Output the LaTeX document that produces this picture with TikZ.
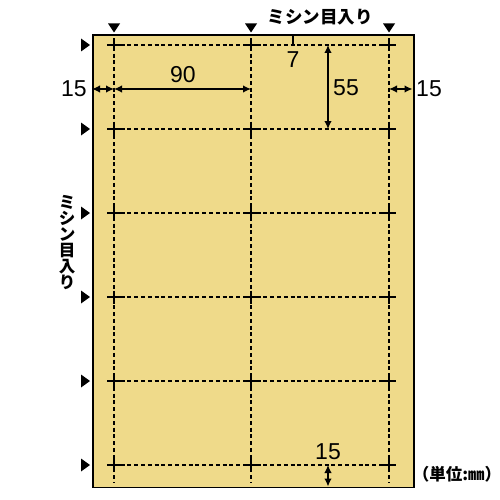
\documentclass[tikz,border=0pt]{standalone}
\usepackage{fontspec}
\setmainfont{Liberation Sans}
\newfontfamily\cjk{Noto Sans CJK JP}
\usetikzlibrary{arrows.meta}
\definecolor{sheet}{RGB}{239,218,138}
\begin{document}
\begin{tikzpicture}[x=1pt,y=-1pt,
  cut/.style={line width=1.3pt,dash pattern=on 4pt off 2.8pt},
  crossmark/.style={line width=1.3pt},
  dim/.style={line width=1.4pt,{Latex[length=8pt,width=7.5pt]}-{Latex[length=8pt,width=7.5pt]}},
  num/.style={font=\fontsize{23}{23}\selectfont,inner sep=0pt},
  jp/.style={font=\cjk\bfseries\fontsize{17.5}{17.5}\selectfont,inner sep=0pt},
  marker/.style={fill=black}]
\useasboundingbox (0,0) rectangle (500,500);
% sheet
\node[draw,line width=1.6pt,fill=sheet,minimum width=321pt,minimum height=452pt,
      anchor=north west,inner sep=0pt] (sheet) at (92,34.5) {};
% perforation lines
\foreach \x in {114,251,389}{
  \draw[cut] (\x,40) -- (\x,483);
  \fill[marker] (\x-6,23.5) -- (\x+6,23.5) -- (\x,32.5) -- cycle;
}
\foreach \y in {45,129,213,297,381,465}{
  \draw[cut] (107,\y) -- (396,\y);
  \fill[marker] (81,\y-6.5) -- (90,\y) -- (81,\y+6.5) -- cycle;
  \foreach \x in {114,251,389}{
    \draw[crossmark] (\x-6.5,\y) -- (\x+6.5,\y) (\x,\y-6.5) -- (\x,\y+6.5);
  }
}
% dimension points
\coordinate (pL) at (92,89);
\coordinate (pA) at (114,89);
\coordinate (pB) at (251,89);
\coordinate (pC) at (389,89);
\coordinate (pR) at (412.5,89);
\coordinate (q1) at (328,45);
\coordinate (q2) at (328,129);
\coordinate (q3) at (328,465);
\coordinate (q4) at (328,486.5);
\coordinate (t1) at (293,34.5);
\coordinate (t2) at (293,45);
\draw[dim] (pL) -- (pA);
\draw[dim] (pA) -- (pB);
\draw[dim] (pC) -- (pR);
\draw[dim] (q1) -- (q2);
\draw[dim] (q3) -- (q4);
\draw[line width=1.2pt] (t1) -- (t2);
% labels
\node[num] (l15a) at (74,89) {15};
\node[num] (l90) at (183,75) {90};
\node[num] (l7) at (293,59.5) {7};
\node[num] (l55) at (346,88) {55};
\node[num] (l15b) at (429,89) {15};
\node[num] (l15c) at (328,452) {15};
\node[jp] (ttop) at (320,17) {ミシン目入り};
\node[jp,align=center,font=\cjk\bfseries\fontsize{16.5}{16}\selectfont] (tleft) at (67,243) {ミ\\シ\\ン\\目\\入\\り};
\node[jp,font=\cjk\bfseries\fontsize{16.5}{16.5}\selectfont] (unit) at (457,474) {（単位:㎜）};
\end{tikzpicture}
\end{document}
